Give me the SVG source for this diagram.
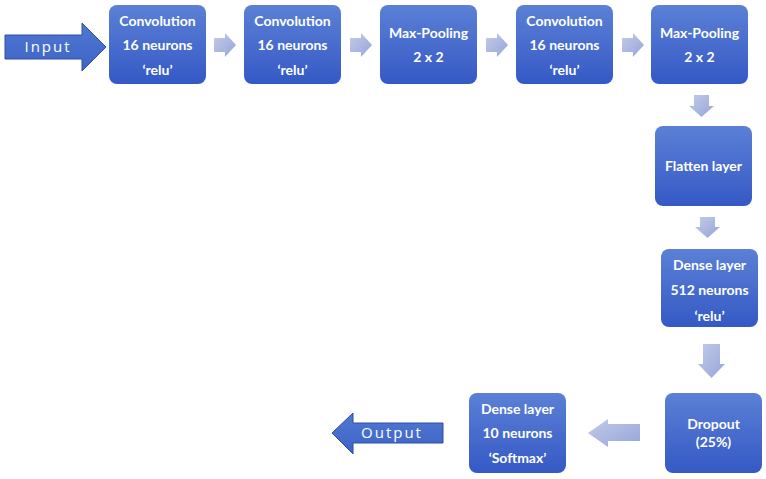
<svg xmlns="http://www.w3.org/2000/svg" width="766" height="479" viewBox="0 0 766 479">
<defs>
<linearGradient id="gb" x1="0" y1="0" x2="0" y2="1">
<stop offset="0" stop-color="#5b80d6"/>
<stop offset="1" stop-color="#3559c5"/>
</linearGradient>
<linearGradient id="ga" x1="0" y1="0" x2="1" y2="1">
<stop offset="0" stop-color="#c3cbe9"/>
<stop offset="1" stop-color="#96a5d8"/>
</linearGradient>
<linearGradient id="gbig" x1="0" y1="0" x2="0" y2="1">
<stop offset="0" stop-color="#4f78d2"/>
<stop offset="1" stop-color="#3e63c6"/>
</linearGradient>
</defs>
<style>
.box{fill:url(#gb);}
.t{font-family:Lato,"Open Sans","Liberation Sans",sans-serif;font-weight:bold;font-size:14px;fill:#ffffff;text-anchor:middle;}
.sa{fill:url(#ga);}
.big{fill:url(#gbig);stroke:#2f4f9e;stroke-width:1;}
.bt{font-family:"Open Sans","Liberation Sans",sans-serif;font-size:15px;fill:#ffffff;text-anchor:middle;letter-spacing:2px;}
</style>
<rect width="766" height="479" fill="#ffffff"/>
<g id="connectors">
<polygon class="big" points="5,35 82,35 82,23 106,47 82,71 82,59 5,59"/>
<polygon class="big" points="443,423 353,423 353,413 332,433 353,454 353,443 443,443"/>
<polygon class="sa" points="214,38 225,38 225,33 236,45 225,57 225,52 214,52"/>
<polygon class="sa" points="350,38 361,38 361,33 372,45 361,57 361,52 350,52"/>
<polygon class="sa" points="486,38 497,38 497,33 508,45 497,57 497,52 486,52"/>
<polygon class="sa" points="622,38 633,38 633,33 644,45 633,57 633,52 622,52"/>
<polygon class="sa" points="694,95 709,95 709,106 714,106 701.5,117 689,106 694,106"/>
<polygon class="sa" points="700,217 715,217 715,227 720,227 707.5,238 695,227 700,227"/>
<polygon class="sa" points="703,344 720,344 720,364 725,364 711.5,378 698,364 703,364"/>
<polygon class="sa" points="640,424 608,424 608,419 588,433 608,447 608,441 640,441"/>
<text class="bt" x="48" y="52">Input</text>
<text class="bt" x="392" y="438">Output</text>
</g>
<g id="conv1">
<rect class="box" x="109" y="5" width="97" height="79" rx="8"/>
<text class="t" x="157.5" y="26">Convolution</text>
<text class="t" x="157.5" y="50">16 neurons</text>
<text class="t" x="157.5" y="75">‘relu’</text>
</g>
<g id="conv2">
<rect class="box" x="244" y="5" width="97" height="79" rx="8"/>
<text class="t" x="292.5" y="26">Convolution</text>
<text class="t" x="292.5" y="50">16 neurons</text>
<text class="t" x="292.5" y="75">‘relu’</text>
</g>
<g id="pool1">
<rect class="box" x="380" y="5" width="97" height="79" rx="8"/>
<text class="t" x="428.5" y="38">Max-Pooling</text>
<text class="t" x="428.5" y="62">2 x 2</text>
</g>
<g id="conv3">
<rect class="box" x="516" y="5" width="97" height="79" rx="8"/>
<text class="t" x="564.5" y="26">Convolution</text>
<text class="t" x="564.5" y="50">16 neurons</text>
<text class="t" x="564.5" y="75">‘relu’</text>
</g>
<g id="pool2">
<rect class="box" x="651" y="5" width="97" height="79" rx="8"/>
<text class="t" x="699.5" y="38">Max-Pooling</text>
<text class="t" x="699.5" y="62">2 x 2</text>
</g>
<g id="flatten">
<rect class="box" x="655" y="126" width="97" height="80" rx="8"/>
<text class="t" x="703.5" y="171">Flatten layer</text>
</g>
<g id="dense512">
<rect class="box" x="661" y="249" width="97" height="78" rx="8"/>
<text class="t" x="709.5" y="270">Dense layer</text>
<text class="t" x="709.5" y="295">512 neurons</text>
<text class="t" x="709.5" y="321">‘relu’</text>
</g>
<g id="dropout">
<rect class="box" x="665" y="393" width="97" height="80" rx="8"/>
<text class="t" x="713.5" y="429">Dropout</text>
<text class="t" x="713.5" y="447">(25%)</text>
</g>
<g id="dense10">
<rect class="box" x="469" y="393" width="97" height="80" rx="8"/>
<text class="t" x="517.5" y="414">Dense layer</text>
<text class="t" x="517.5" y="438">10 neurons</text>
<text class="t" x="517.5" y="463">‘Softmax’</text>
</g>
</svg>
